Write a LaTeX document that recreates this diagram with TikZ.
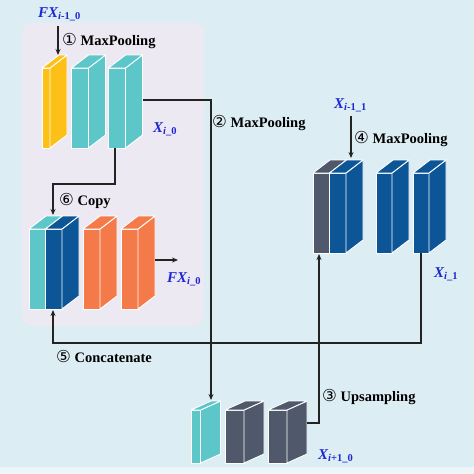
\documentclass[tikz,border=0pt]{standalone}
\usepackage{fontspec}
\setmainfont{Liberation Serif}
\newfontfamily\circfont{DejaVu Sans}
\usetikzlibrary{arrows.meta}
\definecolor{bgblue}{RGB}{220,237,243}
\definecolor{bgstrip}{RGB}{238,245,248}
\definecolor{panelc}{RGB}{237,233,242}
\definecolor{yel}{RGB}{253,192,22}
\definecolor{cteal}{RGB}{92,198,200}
\definecolor{cdblue}{RGB}{12,85,150}
\definecolor{corange}{RGB}{245,122,74}
\definecolor{cgray}{RGB}{80,88,108}
\definecolor{lblue}{RGB}{30,40,210}
\definecolor{linec}{RGB}{35,35,35}
\tikzset{
  cubedge/.style={draw=white,line width=0.9pt,line join=round},
  conn/.style={draw=linec,line width=1.1pt},
  arr/.style={conn,-{Stealth[length=6pt,width=5pt]}},
  steptext/.style={font=\fontsize{14.5}{17}\selectfont\bfseries,anchor=base west,inner sep=0pt},
  varlbl/.style={font=\fontsize{15}{17}\selectfont\bfseries\itshape,text=lblue,anchor=base west,inner sep=0pt}
}
\newcommand\cub[7]{%
  \filldraw[fill=#7,cubedge] (#1,#2) rectangle ++(#3,#4);
  \filldraw[fill=#7,cubedge] (#1+#3,#2) -- ++(#5,-#6) -- ++(0,#4) -- ++(-#5,#6) -- cycle;
  \filldraw[fill=#7,cubedge] (#1,#2) -- ++(#5,-#6) -- ++(#3,0) -- ++(-#5,#6) -- cycle;}
\newcommand\cdig[1]{{\fontsize{16.5}{17}\circfont\mdseries #1}}
\begin{document}
\begin{tikzpicture}[x=1pt,y=-1pt]
\useasboundingbox (0,0) rectangle (474,474);
\fill[bgblue] (0,0) rectangle (474,467);
\fill[bgstrip] (0,467) rectangle (474,474);
\fill[panelc,rounded corners=10pt] (22,23) rectangle (204,326);
% top row in panel
\cub{42}{68}{8}{80}{17}{13}{yel}
\cub{71.5}{68}{17}{80}{17}{13}{cteal}
\cub{108.5}{68}{17}{80}{17}{13}{cteal}
% concat row in panel
\cub{29}{229}{16.5}{80}{17}{13}{cteal}
\cub{45.5}{229}{16.5}{80}{17}{13}{cdblue}
\cub{83}{229}{17}{80}{17}{13}{corange}
\cub{121}{229}{17}{80}{17}{13}{corange}
% right group
\cub{313}{173}{16.5}{80}{17}{13}{cgray}
\cub{329.5}{173}{16.5}{80}{17}{13}{cdblue}
\cub{376}{173}{16}{80}{17}{13}{cdblue}
\cub{413}{173}{16}{80}{17}{13}{cdblue}
% bottom group
\cub{191}{410}{9.5}{53}{20}{9}{cteal}
\cub{225}{410}{19}{53}{20}{9}{cgray}
\cub{268}{410}{19}{53}{20}{9}{cgray}
% connection points
\coordinate (yelTop) at (58,55);
\coordinate (tealBOut) at (142.5,100);
\coordinate (tealBBot) at (115,148);
\coordinate (copyRow) at (53,184);
\coordinate (catTop) at (53,215);
\coordinate (catBot) at (53,310);
\coordinate (catRow) at (53,343);
\coordinate (orOut) at (155,260);
\coordinate (fxEnd) at (178,260);
\coordinate (botTealTop) at (211,400);
\coordinate (blueCOut) at (421,253);
\coordinate (grayDOut) at (307,423);
\coordinate (rcatBot) at (319,254);
\coordinate (rcatTop) at (351,158);
% texts
\node[steptext] (t1) at (62,45) {\cdig{①} MaxPooling};
\node[steptext] (t2) at (212,127) {\cdig{②} MaxPooling};
\node[steptext] (t4) at (354,143) {\cdig{④} MaxPooling};
\node[steptext] (t6) at (59,205) {\cdig{⑥} Copy};
\node[steptext] (t5) at (56,362) {\cdig{⑤} Concatenate};
\node[steptext] (t3) at (322,401) {\cdig{③} Upsampling};
\node[varlbl] (fxin) at (38,17) {FX\textsubscript{i\textup{-1\_0}}};
\node[varlbl] (xi0) at (153,132) {X\textsubscript{i\textup{\_0}}};
\node[varlbl] (fxout) at (167,282) {FX\textsubscript{i\textup{\_0}}};
\node[varlbl] (xim11) at (334,108) {X\textsubscript{i\textup{-1\_1}}};
\node[varlbl] (xi1) at (434,277) {X\textsubscript{i\textup{\_1}}};
\node[varlbl] (xip10) at (318,459) {X\textsubscript{i\textup{+1\_0}}};
% connectors
\draw[arr,shorten <=5pt] (fxin.south -| yelTop) -- (yelTop);
\draw[arr] (tealBOut) -| (botTealTop);
\draw[arr] (tealBBot) |- (copyRow) -- (catTop);
\draw[arr] (orOut) -- (fxEnd);
\draw[arr] (blueCOut) |- (catRow) -- (catBot);
\draw[arr] (grayDOut) -| (rcatBot);
\draw[arr,shorten <=4pt] (xim11.south -| rcatTop) -- (rcatTop);
\end{tikzpicture}
\end{document}
